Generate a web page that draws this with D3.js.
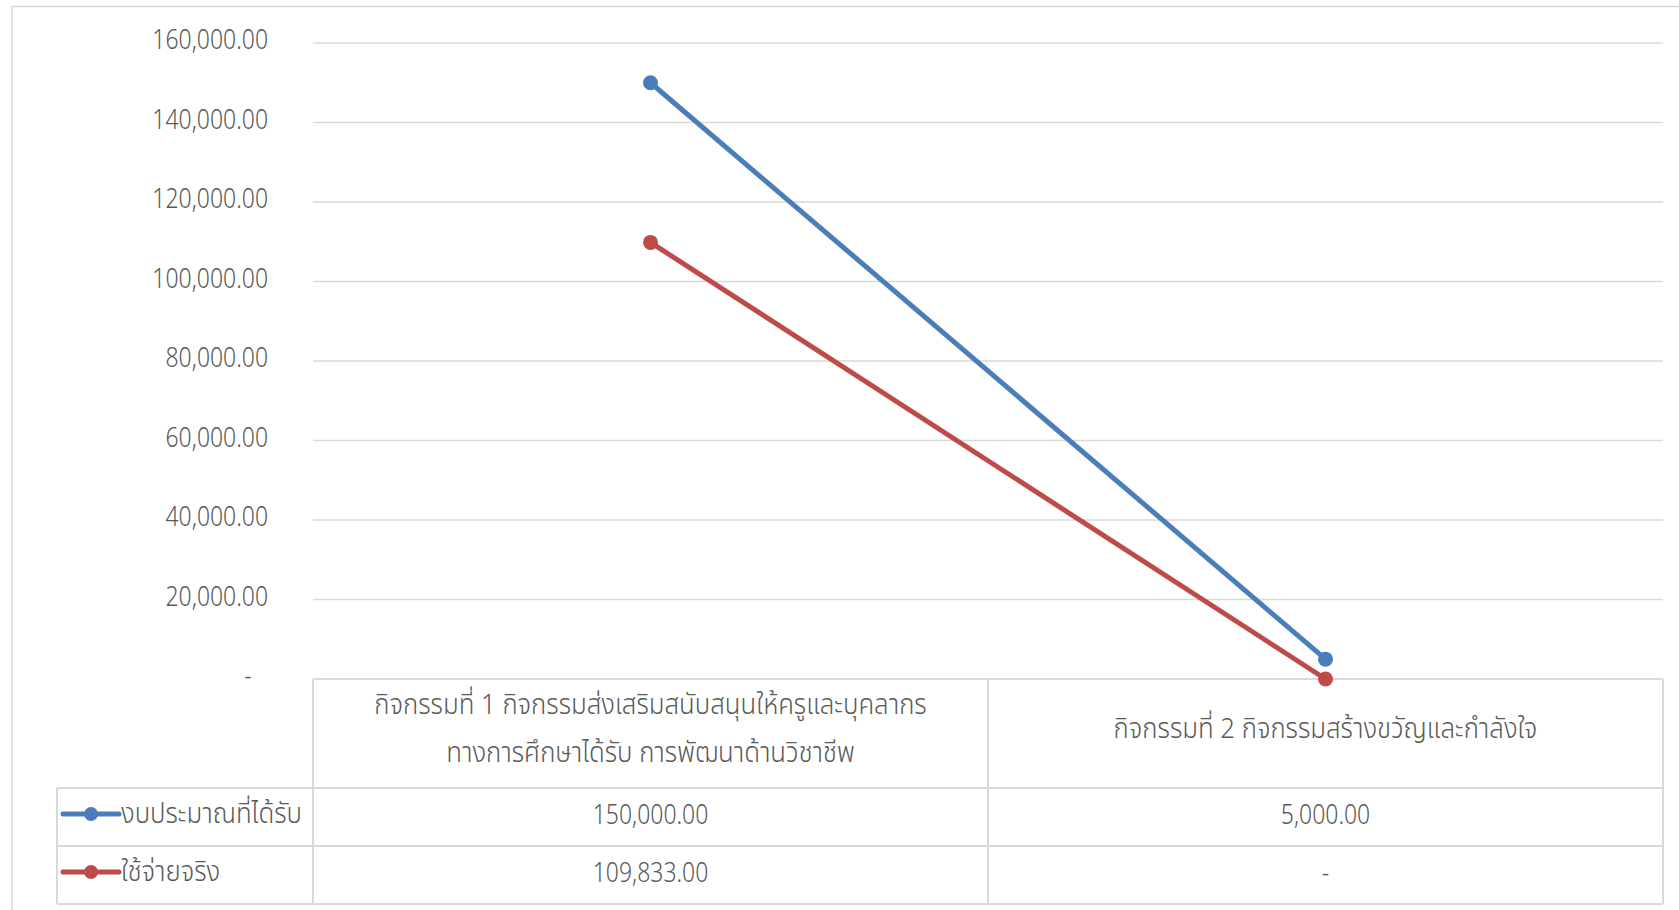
<!DOCTYPE html>
<html><head><meta charset="utf-8">
<script src="https://cdn.jsdelivr.net/npm/d3@7"></script>
<style>
body{margin:0;background:#fff;}
svg text{font-family:"Noto Sans Thai","Noto Sans","DejaVu Sans",sans-serif;fill:#595959;font-weight:300;}
</style></head>
<body><svg id="c" width="1679" height="910"></svg>
<script>
const categories = [
  ["กิจกรรมที่ 1 กิจกรรมส่งเสริมสนับสนุนให้ครูและบุคลากร", "ทางการศึกษาได้รับ การพัฒนาด้านวิชาชีพ"],
  ["กิจกรรมที่ 2 กิจกรรมสร้างขวัญและกำลังใจ"]
];
const seriesNames = ["งบประมาณที่ได้รับ", "ใช้จ่ายจริง"];
const budget = [150000, 5000];
const actual = [109833, 0];
const yTicks = [0, 20000, 40000, 60000, 80000, 100000, 120000, 140000, 160000];
const colors = ["#4A7EBB", "#BE4B48"];

(function () {
const svg = d3.select("#c");
const pLeft = 313, pRight = 1663, pTop = 43, pZero = 679;
const rowH = [109, 58, 58];
const legendLeft = 57;
const NUM_SX = 0.82, THAI_SX = 0.92, FS = 28;

function addText(g, tx, ty, str, anchor, sx) {
  return g.append("text")
    .attr("transform", `translate(${tx},${ty}) scale(${sx},1)`)
    .attr("text-anchor", anchor).attr("dy", "0.35em")
    .attr("font-size", FS).text(str);
}

svg.append("rect").attr("x", 12).attr("y", 6.5).attr("width", 1700).attr("height", 950)
  .attr("fill", "none").attr("stroke", "#D9D9D9").attr("stroke-width", 1.5);

const x = d3.scaleBand().domain(d3.range(categories.length)).range([pLeft, pRight]).padding(0);
const y = d3.scaleLinear().domain([0, 160000]).range([pZero, pTop]);

svg.append("g").selectAll("line").data(yTicks.filter(d => d > 0)).join("line")
  .attr("x1", pLeft).attr("x2", pRight).attr("y1", d => y(d)).attr("y2", d => y(d))
  .attr("stroke", "#D9D9D9").attr("stroke-width", 1.5);

const fmt = d3.format(",.2f");
const yAxis = d3.axisLeft(y).tickValues(yTicks).tickSize(0).tickPadding(0)
  .tickFormat(d => d === 0 ? "-" : fmt(d));
const ga = svg.append("g").attr("transform", `translate(268,0)`).call(yAxis);
ga.select(".domain").remove();
ga.selectAll(".tick text")
  .attr("x", null).attr("dy", null)
  .attr("font-size", FS).attr("fill", "#595959")
  .attr("font-family", "'Noto Sans','DejaVu Sans',sans-serif")
  .attr("text-anchor", d => d === 0 ? "middle" : "end")
  .attr("transform", d => d === 0 ? `translate(-20,-4) scale(${NUM_SX},1)` : `translate(0,-4) scale(${NUM_SX},1)`)
  .attr("dy", "0.35em");

const tableTop = pZero;
const rowsY = [tableTop, tableTop + rowH[0], tableTop + rowH[0] + rowH[1], tableTop + rowH[0] + rowH[1] + rowH[2]];
const tg = svg.append("g").attr("stroke", "#D9D9D9").attr("stroke-width", 2).attr("fill", "none");
tg.append("line").attr("x1", pLeft).attr("x2", pRight).attr("y1", rowsY[0]).attr("y2", rowsY[0]);
[1, 2, 3].forEach(i => tg.append("line").attr("x1", legendLeft).attr("x2", pRight).attr("y1", rowsY[i]).attr("y2", rowsY[i]));
tg.append("line").attr("x1", legendLeft).attr("x2", legendLeft).attr("y1", rowsY[1]).attr("y2", rowsY[3]);
[0, 1, 2].forEach(i => {
  const xx = i < 2 ? x(i) : pRight;
  tg.append("line").attr("x1", xx).attr("x2", xx).attr("y1", rowsY[0]).attr("y2", rowsY[3]);
});

const txt = svg.append("g");
categories.forEach((lines, i) => {
  const cx = x(i) + x.bandwidth() / 2;
  const cy = rowsY[0] + rowH[0] / 2 - 5;
  const lh = 48;
  lines.forEach((t, j) => {
    addText(txt, cx, cy + (j - (lines.length - 1) / 2) * lh, t, "middle", THAI_SX);
  });
});

const seriesData = [budget, actual];
seriesData.forEach((vals, s) => {
  const cy = (rowsY[s + 1] + rowsY[s + 2]) / 2 - 3;
  vals.forEach((v, i) => {
    addText(txt, x(i) + x.bandwidth() / 2, cy, v === 0 ? "-" : fmt(v), "middle", NUM_SX);
  });
  svg.append("line").attr("x1", 63).attr("x2", 119).attr("y1", cy).attr("y2", cy)
    .attr("stroke", colors[s]).attr("stroke-width", 5).attr("stroke-linecap", "round");
  svg.append("circle").attr("cx", 91).attr("cy", cy).attr("r", 7).attr("fill", colors[s]);
  addText(txt, 121, cy - 1, seriesNames[s], "start", THAI_SX);
});

const line = d3.line().x((d, i) => x(i) + x.bandwidth() / 2).y(d => y(d));
seriesData.forEach((vals, s) => {
  svg.append("path").datum(vals).attr("d", line).attr("fill", "none")
    .attr("stroke", colors[s]).attr("stroke-width", 5).attr("stroke-linecap", "round");
  svg.append("g").selectAll("circle").data(vals).join("circle")
    .attr("cx", (d, i) => x(i) + x.bandwidth() / 2).attr("cy", d => y(d)).attr("r", 7.5)
    .attr("fill", colors[s]);
});
})();
</script></body></html>
